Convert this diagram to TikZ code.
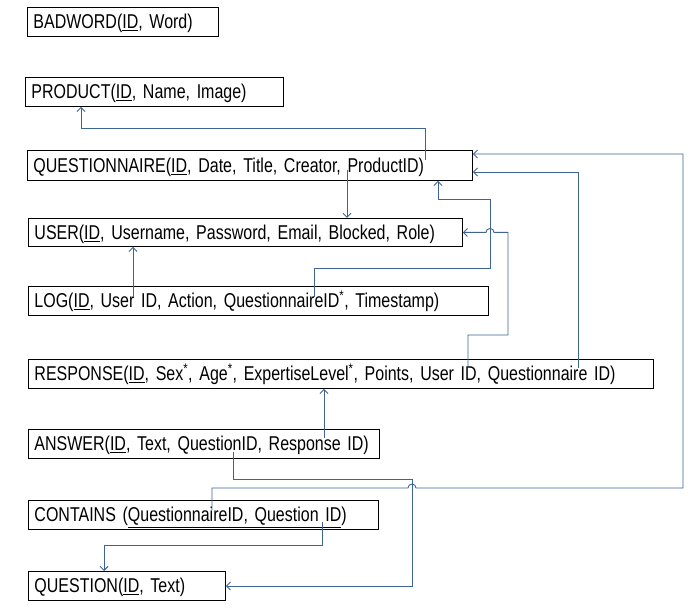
\documentclass[tikz,border=0pt]{standalone}
\usepackage{fontspec}
\setmainfont{Liberation Sans}[FakeStretch=0.8]
\usetikzlibrary{arrows.meta}
\definecolor{fkblue}{RGB}{62,100,150}
\newcommand{\pk}[1]{\underline{#1}}
\newcommand{\opt}{\textsuperscript{*}}
\tikzset{
rel/.style={draw=black, line width=0.9pt, anchor=north west, inner xsep=6pt, inner ysep=0pt,
  minimum height=29pt, text height=14pt, text depth=0pt, align=left, font=\fontsize{20}{22}\selectfont},
fk/.style={draw=fkblue, line width=0.9pt, -{Straight Barb[length=4pt,width=8pt]}}
}

\begin{document}
\begin{tikzpicture}[x=1pt,y=-1pt]
\useasboundingbox (0,0) rectangle (694,609);

\node[rel, text width=179pt] (badword) at (27,7) {BADWORD(\pk{ID}, Word)};
\node[rel, text width=246pt] (product) at (25,77) {PRODUCT(\pk{ID}, Name, Image)};
\node[rel, text width=433pt, minimum height=30pt] (questionnaire) at (27,150) {QUESTIONNAIRE(\pk{ID}, Date, Title, Creator, ProductID)};
\node[rel, text width=422pt, minimum height=28pt] (user) at (28,218) {USER(\pk{ID}, Username, Password, Email, Blocked, Role)};
\node[rel, text width=448pt] (log) at (28,286) {LOG(\pk{ID}, User ID, Action, QuestionnaireID\opt, Timestamp)};
\node[rel, text width=613pt] (response) at (28,359) {RESPONSE(\pk{ID}, Sex\opt, Age\opt, ExpertiseLevel\opt, Points, User ID, Questionnaire ID)};
\node[rel, text width=339pt] (answer) at (28,429) {\mbox{ANSWER(\pk{ID}, Text, QuestionID, Response ID)}};
\node[rel, text width=338pt] (contains) at (28,500) {CONTAINS (\pk{QuestionnaireID, Question ID})};
\node[rel, text width=185pt] (question) at (28,571) {QUESTION(\pk{ID}, Text)};

% foreign keys
\coordinate (qnProduct) at (425,160);
\coordinate (qnCreator) at (347,170);
\coordinate (lgUser) at (133,297);
\coordinate (lgQuest) at (314,297);
\coordinate (rsUser) at (468,368);
\coordinate (rsQuest) at (578,368);
\coordinate (anResp) at (324,438);
\coordinate (anQuestion) at (233,452);
\coordinate (ctQuest) at (212,510);
\coordinate (ctQuestion) at (322,522);

\draw[fk] (qnProduct) |- (81,128) -- (81,128 |- product.south);
\draw[fk] (qnCreator) -- (qnCreator |- user.north);
\draw[fk] (lgUser) -- (lgUser |- user.south);
\draw[fk] (lgQuest) |- (490,268) |- (438,199) -- (438,199 |- questionnaire.south);
\draw[fk] (rsUser) |- (508,335) -- (user.east -| 508,0) -- (user.east -| 494,0) arc(0:-180:4) -- (user.east);
\draw[fk] (rsQuest) |- (questionnaire.east |- 0,172);
\draw[fk] (anResp) -- (anResp |- response.south);
\draw[fk] (anQuestion) |- (412,479) |- (question.east);
\draw[fk] (ctQuest) |- (408,488) arc(180:360:4) -- (683,488) |- (questionnaire.east |- 0,154);
\draw[fk] (ctQuestion) |- (104,545) -- (104,545 |- question.north);

\end{tikzpicture}
\end{document}
